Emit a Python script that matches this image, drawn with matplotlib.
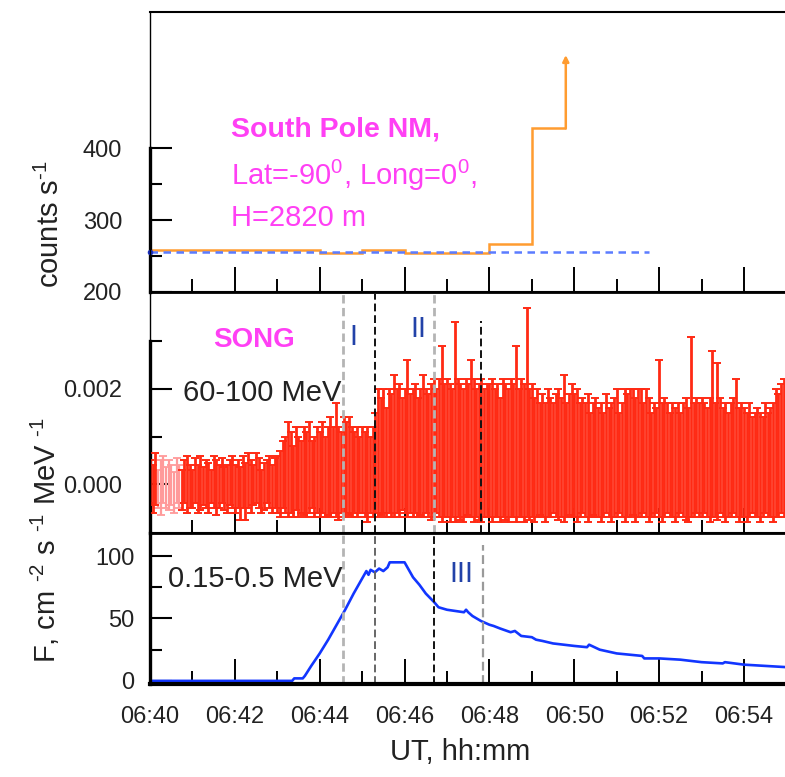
import matplotlib
matplotlib.use("Agg")
import matplotlib.pyplot as plt
import numpy as np
from matplotlib.ticker import FixedLocator

plt.rcParams['font.family'] = ['Liberation Sans', 'DejaVu Sans']
plt.rcParams['mathtext.fontset'] = 'custom'
plt.rcParams['mathtext.rm'] = 'Liberation Sans'
plt.rcParams['mathtext.it'] = 'Liberation Sans:italic'
plt.rcParams['mathtext.bf'] = 'Liberation Sans:bold'

# time axis in minutes after 06:00
x_major = [40, 42, 44, 46, 48, 50, 52, 54]
x_labels = ['06:40', '06:42', '06:44', '06:46', '06:48', '06:50', '06:52', '06:54']
x_minor = [41, 43, 45, 47, 49, 51, 53]

# South Pole neutron monitor, counts/s (1-min steps)
nm_edges = [40, 41, 42, 43, 44, 45, 46, 47, 48, 49, 49.8]
nm_counts = [258, 258, 258, 258, 254, 258, 254, 254, 267, 428]
nm_top = 530
nm_background = 256
nm_bg_end = 51.75

# SONG 60-100 MeV: upper / lower ends of the error bars, units of 1e-4 MeV^-1,
# 3.75 s samples from 06:40 (one row = one minute)
song_hi = [5, 4, 6.5, 3, 5, 6, 3.5, 5, 4, 2.5, 5.5, 4, 3, 5, 6, 4,
           3, 5.5, 4, 6, 3.5, 5, 4.5, 3, 6, 5, 4, 5.5, 3.5, 4, 5, 6,
           4, 5, 3.5, 6, 4.5, 6.5, 5, 4, 6.5, 5.5, 3, 4.5, 5, 6, 4, 5.5,
           6, 7, 9, 10, 13, 11, 8, 12, 10, 9, 12, 11, 13, 9, 10, 12,
           11, 13, 10, 12, 14, 12, 17, 12, 11, 14, 13, 14, 12, 11, 12, 10,
           12, 11, 12, 10, 12, 15, 20, 18, 20, 16, 20, 19, 23, 20, 21, 18,
           20, 26, 19, 20, 21, 18, 20, 23, 20, 19, 21, 22, 20, 22, 29, 21,
           22, 21, 20, 34, 22, 21, 20, 22, 21, 26, 22, 20, 21, 22, 20, 21,
           21, 22, 20, 21, 18, 22, 21, 20, 22, 21, 29, 20, 22, 21, 37, 20,
           21, 18, 20, 17, 19, 17, 20, 18, 17, 19, 20, 18, 23, 17, 19, 21,
           19, 20, 17, 18, 17, 19, 15, 17, 18, 16, 17, 15, 19, 16, 17, 18,
           20, 15, 17, 20, 19, 20, 20, 18, 20, 20, 17, 20, 18, 15, 17, 16,
           26, 17, 18, 17, 15, 17, 16, 17, 15, 17, 18, 16, 31, 17, 18, 17,
           18, 17, 16, 18, 28, 17, 25.5, 18, 16, 17, 15, 17, 18, 22, 16, 17,
           16, 15, 17, 14, 15, 16, 15, 14, 17, 15, 16, 17, 20, 19, 21, 22]
song_lo = [-4, -6, -4.5, -5, -6.5, -4, -5, -5.5, -4.5, -6, -4, -5, -5.5, -4, -6, -5,
           -5, -4, -6, -5.5, -4.5, -5, -6, -4, -5, -6.5, -5, -4, -5.5, -6, -4.5, -5,
           -6, -5, -7.5, -5, -7.5, -5, -6, -4.5, -4, -5, -6, -5.5, -4, -5, -6, -5,
           -6, -7, -5, -6, -7, -6, -7, -5.5, -7, -6, -6.5, -7, -6, -5, -7, -6,
           -7, -6, -7, -6.5, -7, -6, -7, -7.5, -6, -7, -6, -6.5, -7, -6, -7, -6,
           -6, -7, -8, -6, -7, -6, -7, -6.5, -6, -7, -6, -7, -7, -6, -7, -5.5,
           -6, -7, -6, -7, -6, -7, -6.5, -7, -6, -7, -7.5, -7, -6, -7, -8, -7,
           -7, -8, -7, -8, -7, -7.5, -8, -7, -6.5, -7, -8, -7, -7.5, -8, -7, -7,
           -7, -8, -7, -7, -8, -7, -7.5, -8, -7, -7, -8, -7, -7, -8, -7, -7.5,
           -7, -8, -7, -6.5, -7, -8, -7, -7, -6, -7, -7.5, -7, -8, -7, -6.5, -7,
           -7, -8, -7, -6, -7, -8, -7, -6.5, -7, -7, -8, -7, -6, -7, -8, -7,
           -7, -6, -7, -8, -7, -7, -6.5, -8, -7, -7, -6, -7, -8, -7, -7, -6,
           -7, -8, -7, -6, -7, -7, -8, -7, -6, -7, -7.5, -8, -7, -7, -6, -7,
           -7, -6, -7, -8, -7, -7, -7.5, -6, -7, -8, -7, -7, -6, -7, -8, -7,
           -7, -8, -7, -6, -7, -7, -8, -7, -6, -7, -7, -8, -7, -7, -6, -7]
song_dt = 1 / 16

# 0.15-0.5 MeV flux, cm^-2 s^-1 MeV^-1
low_t = [40.0, 43.35, 43.4, 43.6, 43.65, 43.8, 44.0, 44.2, 44.4, 44.6,
         44.8, 45.0, 45.1, 45.15, 45.2, 45.3, 45.4, 45.5, 45.6, 45.65,
         45.8, 46.0, 46.1, 46.2, 46.35, 46.5, 46.7, 46.8, 47.0, 47.2,
         47.4, 47.45, 47.5, 47.6, 47.8, 48.0, 48.1, 48.25, 48.5, 48.6,
         48.75, 49.0, 49.1, 49.25, 49.5, 49.75, 50.0, 50.3, 50.35, 50.6,
         51.0, 51.3, 51.6, 51.65, 52.0, 52.5, 53.0, 53.5, 53.55, 54.0,
         54.5, 55.0]
low_f = [0, 0, 2, 2, 4, 12, 22, 33, 45, 57,
         70, 82, 88, 85, 89, 87, 90, 88, 91, 95,
         95, 95, 89, 83, 77, 70, 63, 59, 57, 56,
         55, 57, 55, 52, 48, 45, 44, 42, 39, 40,
         36, 35, 33, 32, 30, 29, 28, 27, 29, 25,
         22, 21, 20, 18, 18, 17, 15, 14, 15, 13,
         12, 11]

orange = '#ff9c30'
red = '#ff2a14'
magenta = '#ff40f4'
navy = '#2242a8'
ink = '#222222'

fig = plt.figure(figsize=(7.85, 7.77), dpi=100)
left, width = 150 / 785, 636.4 / 785
ax1 = fig.add_axes([left, 1 - 292 / 777, width, 280 / 777])
ax2 = fig.add_axes([left, 1 - 533 / 777, width, 241 / 777])
ax3 = fig.add_axes([left, 1 - 684 / 777, width, 151 / 777])

for ax in (ax1, ax2, ax3):
    ax.set_xlim(40, 55)
    ax.xaxis.set_major_locator(FixedLocator(x_major))
    ax.xaxis.set_minor_locator(FixedLocator(x_minor))
    ax.tick_params(axis='x', which='major', direction='in', length=18, width=1.4, labelsize=17, labelcolor=ink, pad=16)
    ax.tick_params(axis='x', which='minor', direction='in', length=9.5, width=1.4)
    ax.tick_params(axis='y', which='major', direction='in', length=16, width=1.5, labelsize=17, labelcolor=ink, pad=20)
    ax.tick_params(axis='y', which='minor', direction='in', length=8.5, width=1.5)
    ax.spines['right'].set_visible(False)
    ax.spines['left'].set_linewidth(1.0)
    ax.spines['top'].set_linewidth(1.5)
    ax.spines['bottom'].set_linewidth(2.0)
    ax.patch.set_alpha(0)

ax1.tick_params(axis='x', labelbottom=False)
ax2.tick_params(axis='x', labelbottom=False)
ax3.set_xticklabels(x_labels)

# --- top: neutron monitor
ax1.set_ylim(200, 590)
ax1.yaxis.set_major_locator(FixedLocator([200, 300, 400]))
ax1.yaxis.set_minor_locator(FixedLocator([250, 350]))
ax1.plot([0, 0], [200, 400], transform=ax1.get_yaxis_transform(), color='k', lw=2.4, clip_on=False)
ax1.plot([40, nm_bg_end], [nm_background, nm_background], color='#5b7cff', lw=1.8, ls=(0, (3, 2.2)))
ax1.plot([40], [nm_background], 'o', color='#1a2fbf', ms=3, clip_on=False)
ax1.stairs(nm_counts, nm_edges, baseline=None, color=orange, lw=1.8)
ax1.annotate('', xy=(nm_edges[-1], nm_top), xytext=(nm_edges[-1], nm_counts[-1]),
             arrowprops=dict(arrowstyle='-|>', color=orange, lw=1.8, mutation_scale=9, shrinkA=0, shrinkB=0))
ax1.text(41.9, 426, 'South Pole NM,', color=magenta, fontsize=20.5, fontweight='bold', va='center')
ax1.text(41.9, 362, r'Lat=-90$^0$, Long=0$^0$,', color=magenta, fontsize=21, va='center')
ax1.text(41.9, 303, 'H=2820 m', color=magenta, fontsize=21, va='center')

# --- middle: SONG gamma
hi = np.array(song_hi) * 1e-4
lo = np.array(song_lo) * 1e-4
flux = (hi + lo) / 2
err = (hi - lo) / 2
song_t = 40 + song_dt * np.arange(len(song_hi))
ax2.set_ylim(-0.00103, 0.00404)
ax2.yaxis.set_major_locator(FixedLocator([0.0, 0.002]))
ax2.yaxis.set_minor_locator(FixedLocator([0.001, 0.003]))
ax2.set_yticklabels(['0.000', '0.002'])
ax2.plot([0, 0], [-0.00103, 0.003], transform=ax2.get_yaxis_transform(), color='k', lw=2.4, clip_on=False)
faint = slice(3, 12)
ax2.errorbar(song_t[faint], flux[faint], yerr=err[faint], fmt='none', ecolor='#ff9a9a',
             elinewidth=1.6, capsize=2.9, capthick=1.3)
keep = np.r_[0:3, 12:len(song_t)]
ax2.errorbar(song_t[keep], flux[keep], yerr=err[keep], fmt='none', ecolor=red,
             elinewidth=2.0, capsize=2.9, capthick=1.4)
for xv, col, lw, top in [(44.55, '#b4b4b4', 2.0, 1.0), (45.3, '#111111', 1.4, 0.99),
                         (46.7, '#b4b4b4', 2.0, 1.0), (47.8, '#111111', 1.4, 0.88)]:
    dash = (0, (4, 2)) if lw < 1.8 else (0, (3, 1.6))
    ax2.axvline(xv, ymin=0, ymax=top, color=col, lw=lw, ls=dash)
ax2.text(42.45, 0.00303, 'SONG', color=magenta, fontsize=20, fontweight='bold', ha='center', va='center')
ax2.text(40.78, 0.00191, '60-100 MeV', color=ink, fontsize=21, va='center')
ax2.text(44.8, 0.0031, 'I', color=navy, fontsize=21, ha='center', va='center')
ax2.text(46.33, 0.00327, 'II', color=navy, fontsize=21, ha='center', va='center')

# --- bottom: 0.15-0.5 MeV
ax3.set_ylim(-2.5, 118.5)
ax3.yaxis.set_major_locator(FixedLocator([0, 50, 100]))
ax3.yaxis.set_minor_locator(FixedLocator([25, 75]))
ax3.tick_params(axis='y', which='major', pad=11)
ax3.spines['left'].set_linewidth(2.4)
ax3.spines['bottom'].set_linewidth(3.0)
ax3.plot(low_t, low_f, color='#1236ff', lw=1.9)
for xv, col, lw, top in [(44.55, '#b4b4b4', 2.0, 1.0), (45.3, '#666666', 1.4, 1.0),
                         (46.7, '#111111', 1.4, 1.0), (47.85, '#9a9a9a', 1.6, 0.92)]:
    dash = (0, (4, 2)) if lw < 1.8 else (0, (3, 1.6))
    ax3.axvline(xv, ymin=0, ymax=top, color=col, lw=lw, ls=dash)
ax3.text(40.42, 82, '0.15-0.5 MeV', color=ink, fontsize=21, va='center')
ax3.text(47.35, 86, 'III', color=navy, fontsize=21, ha='center', va='center')

# axis labels
fig.text(50 / 785, 1 - 224 / 777, r'counts s$^{\text{-1}}$', rotation=90, fontsize=21, color=ink,
         ha='center', va='center')
fig.text(45 / 785, 1 - 540 / 777, r'F, cm $^{\text{-2}}$ s $^{\text{-1}}$ MeV $^{\text{-1}}$', rotation=90,
         fontsize=21, color=ink, ha='center', va='center')
fig.text(460 / 785, 1 - 752 / 777, 'UT, hh:mm', fontsize=21, color=ink, ha='center', va='center')

fig.savefig('out.png', dpi=100)
